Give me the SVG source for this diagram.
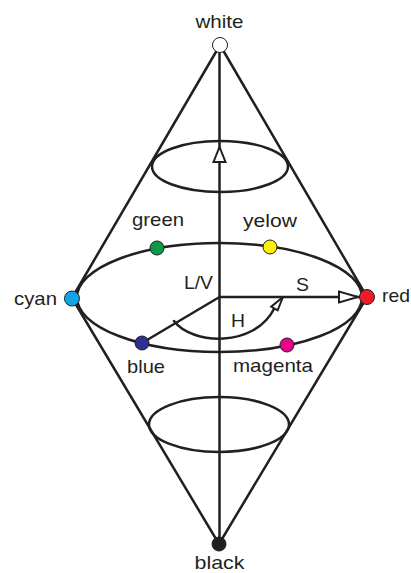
<svg xmlns="http://www.w3.org/2000/svg" width="411" height="573" viewBox="0 0 411 573">
<style>
.ln{fill:none;stroke:#231f20;stroke-width:2.5;stroke-linecap:round}
.el{fill:none;stroke:#231f20;stroke-width:2.5}
.hd{fill:#fff;stroke:#231f20;stroke-width:2;stroke-linejoin:miter}
.dot{stroke:#231f20;stroke-width:1}
text{font-family:"Liberation Sans",Arial,sans-serif;font-size:18.5px;fill:#231f20}
</style>
<rect width="411" height="573" fill="#fff"/>
<g id="connectors">
<line class="ln" x1="220" y1="45" x2="72" y2="298"/>
<line class="ln" x1="220" y1="45" x2="367" y2="297"/>
<line class="ln" x1="219" y1="544" x2="72" y2="298"/>
<line class="ln" x1="219" y1="544" x2="367" y2="297"/>
<ellipse class="el" cx="220" cy="166.5" rx="68" ry="25.5"/>
<ellipse class="el" cx="219" cy="424.5" rx="70" ry="27.5"/>
<ellipse class="el" cx="219.5" cy="297.5" rx="142.5" ry="54.5"/>
<line class="ln" x1="219.5" y1="52" x2="219.5" y2="537"/>
<polygon class="hd" points="219.5,147 213.5,162 225.5,162"/>
<line class="ln" x1="219.5" y1="297" x2="360" y2="297"/>
<polygon class="hd" points="358,297 339,291.5 339,302.5"/>
<line class="ln" x1="219.5" y1="297" x2="142" y2="343"/>
<path class="ln" d="M174,321 C192,345 255,348 274.5,308"/>
<polygon class="hd" points="283,297 277.6,310.4 271.2,306.6"/>
</g>
<g id="white"><circle class="dot" cx="220" cy="45" r="7.5" fill="#fff"/><text x="219.5" y="28" text-anchor="middle" textLength="48" lengthAdjust="spacingAndGlyphs">white</text></g>
<g id="black"><circle class="dot" cx="219" cy="544" r="7" fill="#231f20"/><text x="219.5" y="569" text-anchor="middle" textLength="50" lengthAdjust="spacingAndGlyphs">black</text></g>
<g id="cyan"><circle class="dot" cx="72" cy="298.5" r="7.5" fill="#12a5e6"/><text x="14" y="305" textLength="43" lengthAdjust="spacingAndGlyphs">cyan</text></g>
<g id="red"><circle class="dot" cx="367" cy="297" r="7.5" fill="#ee1c25"/><text x="382" y="302" textLength="28" lengthAdjust="spacingAndGlyphs">red</text></g>
<g id="green"><circle class="dot" cx="157" cy="248" r="7" fill="#0a9a48"/><text x="132" y="226" textLength="52" lengthAdjust="spacingAndGlyphs">green</text></g>
<g id="yellow"><circle class="dot" cx="270" cy="247" r="7" fill="#fff200"/><text x="243" y="227" textLength="54" lengthAdjust="spacingAndGlyphs">yelow</text></g>
<g id="blue"><circle class="dot" cx="142" cy="343" r="7" fill="#2e3192"/><text x="127" y="373" textLength="38" lengthAdjust="spacingAndGlyphs">blue</text></g>
<g id="magenta"><circle class="dot" cx="287" cy="345" r="7" fill="#e6008a"/><text x="233" y="372" textLength="80" lengthAdjust="spacingAndGlyphs">magenta</text></g>
<g id="lv"><text x="184" y="289" textLength="29" lengthAdjust="spacingAndGlyphs">L/V</text></g>
<g id="s"><text x="296" y="291" textLength="13" lengthAdjust="spacingAndGlyphs">S</text></g>
<g id="h"><text x="231" y="327" textLength="14" lengthAdjust="spacingAndGlyphs">H</text></g>
</svg>
